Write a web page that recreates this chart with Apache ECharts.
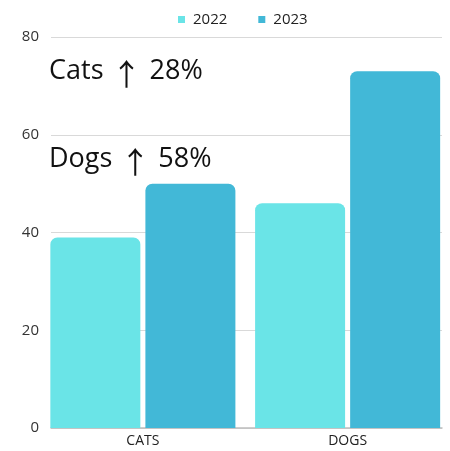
<!DOCTYPE html>
<html>
<head>
<meta charset="utf-8">
<script src="https://cdn.jsdelivr.net/npm/echarts@6/dist/echarts.min.js"></script>
<style>html,body{margin:0;padding:0;background:#fff}#c{width:450px;height:451px}</style>
</head>
<body>
<div id="c"></div>
<script>
const categories = ['CATS', 'DOGS'];
const series2022 = [39, 46];
const series2023 = [50, 73];
const seriesNames = ['2022', '2023'];
const notes = [['Cats', '↑', '28%'], ['Dogs', '↑', '58%']];

const chart = echarts.init(document.getElementById('c'));
const font = 'Open Sans';
function noteText(n) { return '{a|' + n[0] + '}{b|' + n[1] + '}{a|' + n[2] + '}'; }
const rich = {
  a: { fontFamily: font, fontSize: 27, color: '#111', verticalAlign: 'middle', lineHeight: 36 },
  b: { fontFamily: 'Noto Sans CJK JP', fontSize: 30, color: '#111', fontWeight: 'normal',
       verticalAlign: 'middle', lineHeight: 36, padding: [5, 8, 0, 8] }
};
chart.setOption({
  animation: false,
  legend: {
    top: 7, left: 173,
    itemWidth: 7, itemHeight: 7, itemGap: 31,
    icon: 'rect',
    textStyle: { fontFamily: font, fontSize: 15, color: '#222', padding: [0, 0, 0, 3] },
    data: seriesNames
  },
  grid: [
    { left: 51, right: 8, top: 37, bottom: 23 },
    { left: 40.5, right: -2.5, top: 37, bottom: 23 }
  ],
  xAxis: [
    { gridIndex: 0, type: 'category', data: categories,
      axisLine: { lineStyle: { color: '#bdbdbd', width: 1.5 } },
      axisTick: { show: false }, axisLabel: { show: false } },
    { gridIndex: 1, type: 'category', data: categories,
      axisLine: { show: false }, axisTick: { show: false },
      axisLabel: { fontFamily: font, fontSize: 14, color: '#222', margin: 6 } }
  ],
  yAxis: [
    { gridIndex: 0, type: 'value', min: 0, max: 80, interval: 20,
      axisLine: { show: false }, axisTick: { show: false },
      axisLabel: { fontFamily: font, fontSize: 15, color: '#333', margin: 12 },
      splitLine: { lineStyle: { color: '#d9d9d9', width: 1 } } },
    { gridIndex: 1, type: 'value', min: 0, max: 80, interval: 20,
      axisLine: { show: false }, axisTick: { show: false },
      axisLabel: { show: false }, splitLine: { show: false } }
  ],
  series: [
    { name: seriesNames[0], type: 'bar', xAxisIndex: 1, yAxisIndex: 1,
      data: series2022, barWidth: 90, barGap: '5.6%',
      itemStyle: { color: '#6ae4e7', borderRadius: [7, 7, 0, 0] } },
    { name: seriesNames[1], type: 'bar', xAxisIndex: 1, yAxisIndex: 1,
      data: series2023, barWidth: 90, barGap: '5.6%',
      itemStyle: { color: '#42b8d7', borderRadius: [7, 7, 0, 0] } }
  ],
  graphic: [
    { type: 'text', left: 49, top: 54, z: 10,
      style: { text: noteText(notes[0]), rich: rich, fill: '#111' } },
    { type: 'text', left: 49, top: 142, z: 10,
      style: { text: noteText(notes[1]), rich: rich, fill: '#111' } }
  ]
});
</script>
</body>
</html>
